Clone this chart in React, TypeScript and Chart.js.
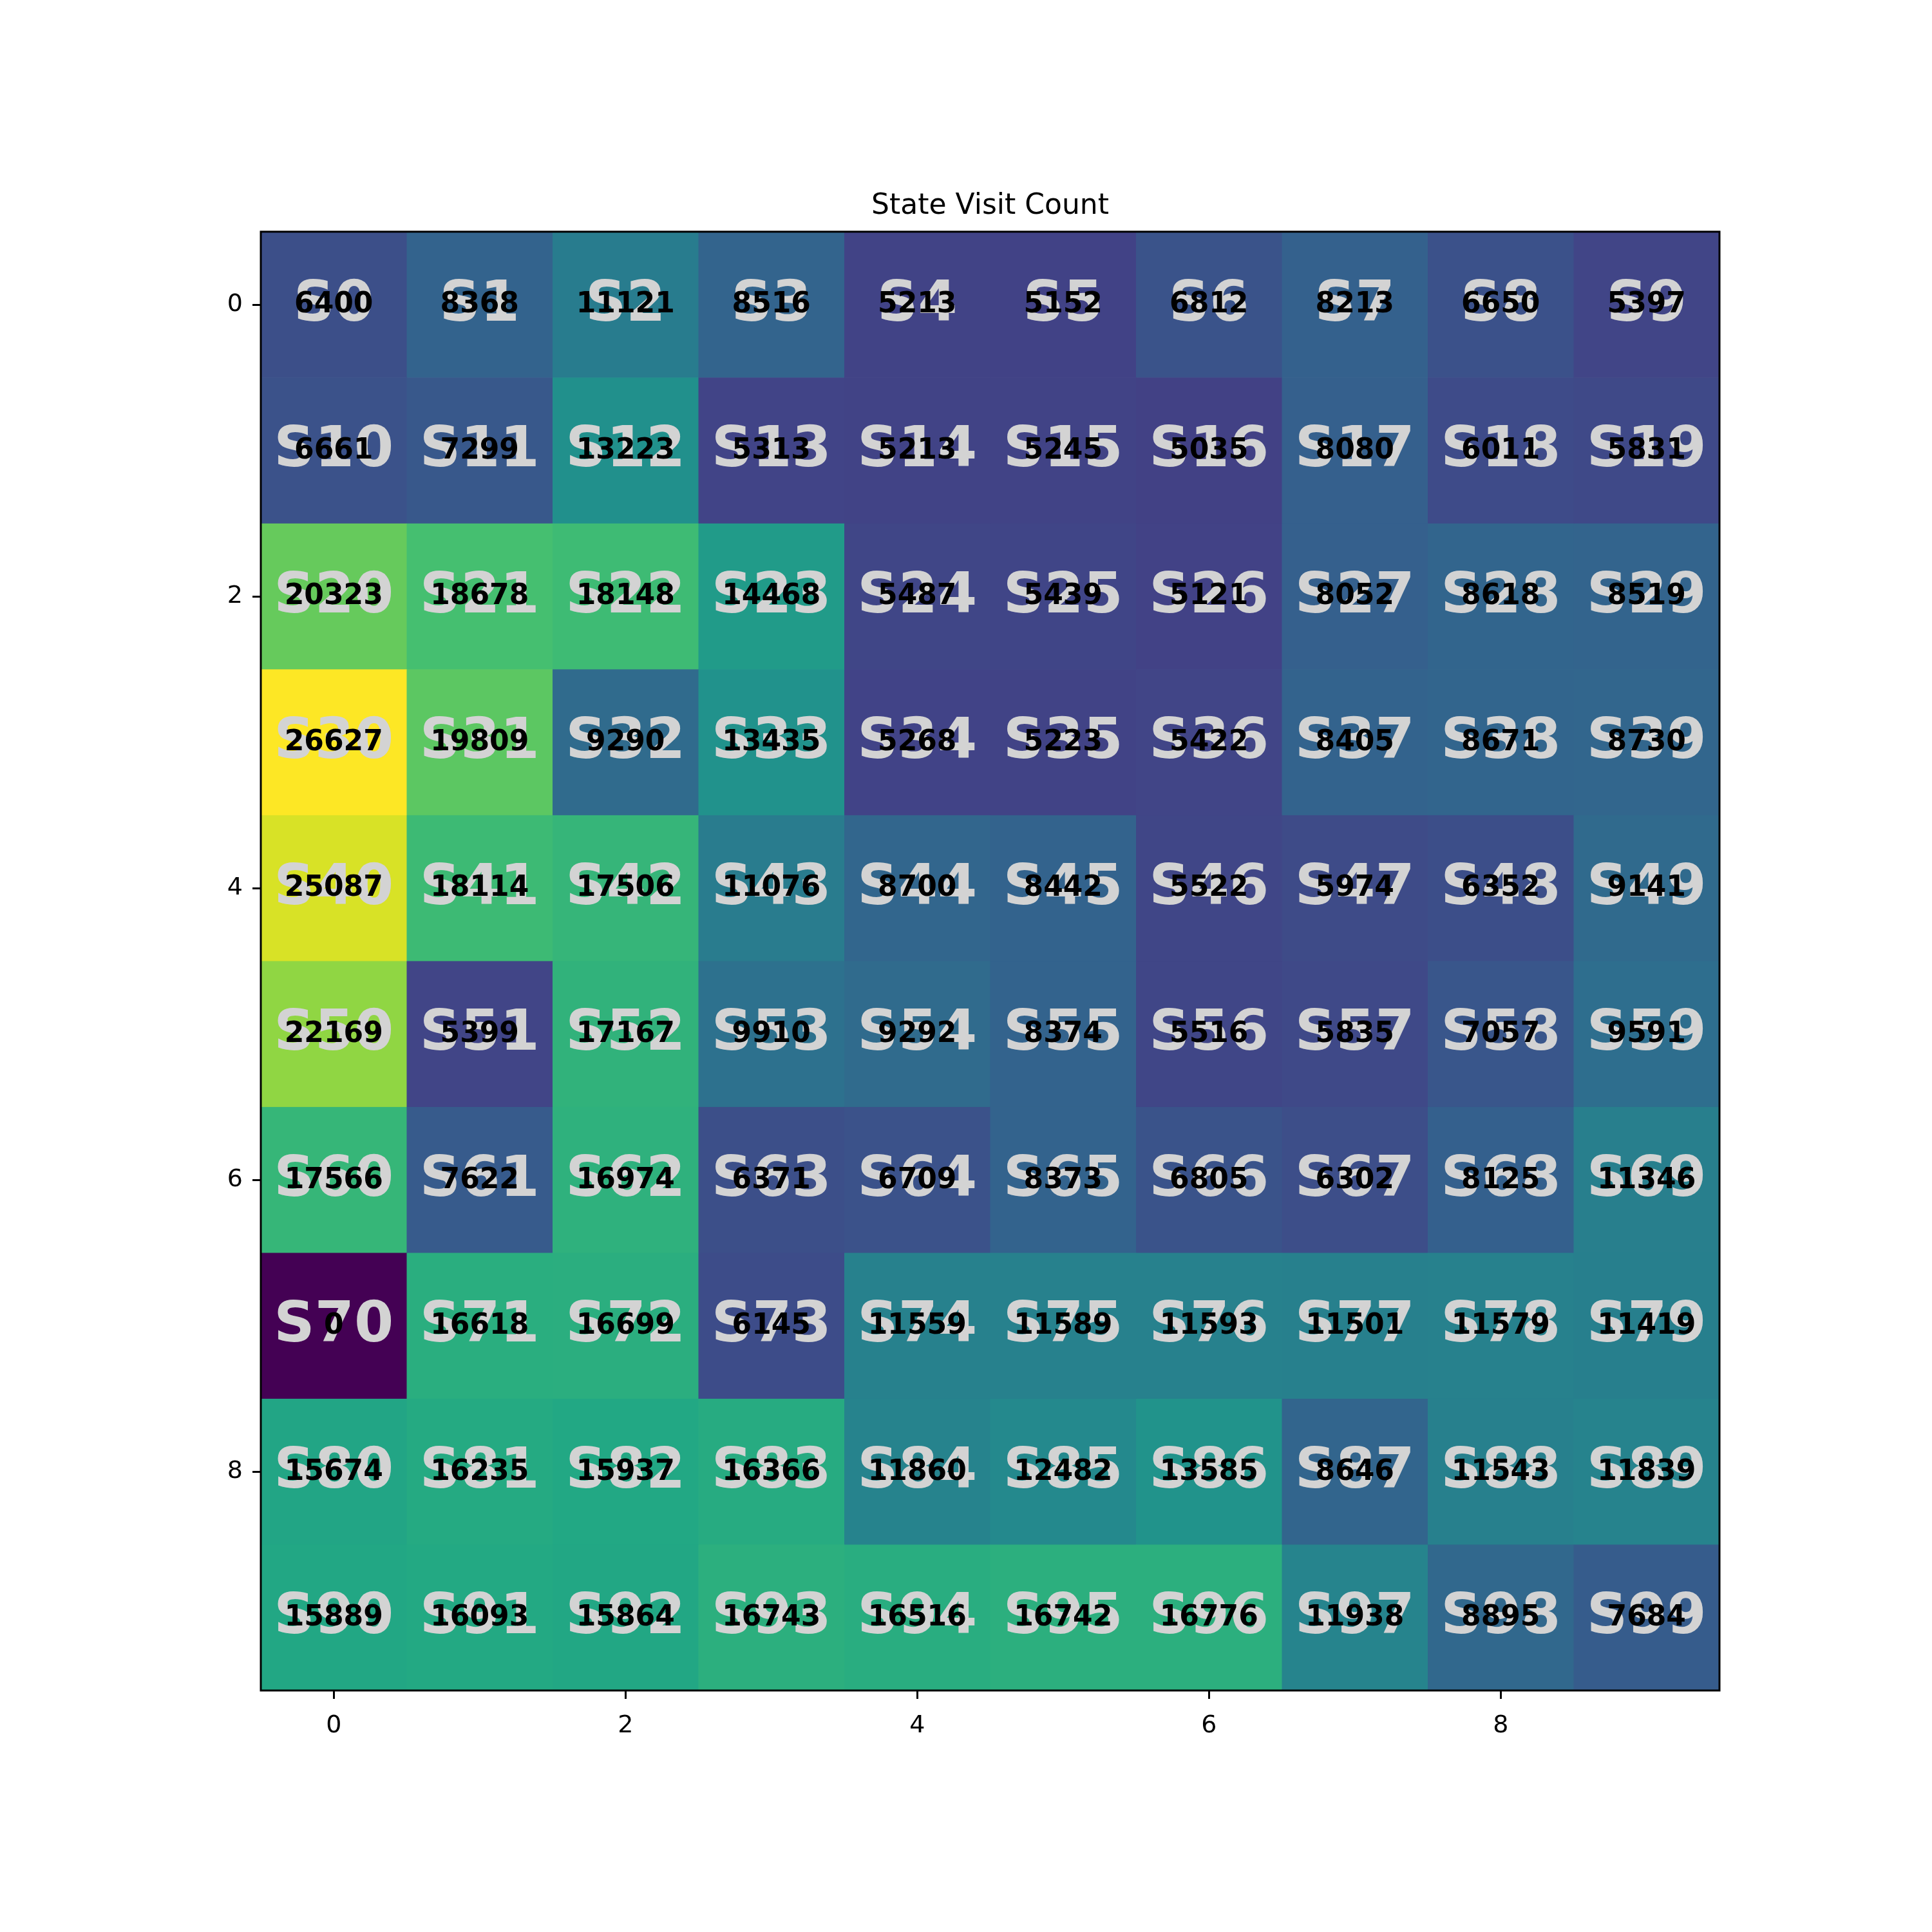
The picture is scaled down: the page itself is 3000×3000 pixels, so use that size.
import { useEffect, useRef } from 'react';
import { Chart, registerables } from 'chart.js';

Chart.register(...registerables);

const TITLE = 'State Visit Count';
const xCategories = [0, 1, 2, 3, 4, 5, 6, 7, 8, 9];
const yCategories = [0, 1, 2, 3, 4, 5, 6, 7, 8, 9];
const xTickValues = [0, 2, 4, 6, 8];
const yTickValues = [0, 2, 4, 6, 8];

const row0 = [6400, 8368, 11121, 8516, 5213, 5152, 6812, 8213, 6650, 5397];
const row1 = [6661, 7299, 13223, 5313, 5213, 5245, 5035, 8080, 6011, 5831];
const row2 = [20323, 18678, 18148, 14468, 5487, 5439, 5121, 8052, 8618, 8519];
const row3 = [26627, 19809, 9290, 13435, 5268, 5223, 5422, 8405, 8671, 8730];
const row4 = [25087, 18114, 17506, 11076, 8700, 8442, 5522, 5974, 6352, 9141];
const row5 = [22169, 5399, 17167, 9910, 9292, 8374, 5516, 5835, 7057, 9591];
const row6 = [17566, 7622, 16974, 6371, 6709, 8373, 6805, 6302, 8125, 11346];
const row7 = [0, 16618, 16699, 6145, 11559, 11589, 11593, 11501, 11579, 11419];
const row8 = [15674, 16235, 15937, 16366, 11860, 12482, 13585, 8646, 11543, 11839];
const row9 = [15889, 16093, 15864, 16743, 16516, 16742, 16776, 11938, 8895, 7684];

const rows = [row0, row1, row2, row3, row4, row5, row6, row7, row8, row9];
const stateLabels = yCategories.map((r) => xCategories.map((c) => `S${r * 10 + c}`));

const FONT = '"DejaVu Sans", sans-serif';

const VIRIDIS = [
  [68, 1, 84],
  [72, 36, 117],
  [65, 68, 135],
  [53, 95, 141],
  [42, 120, 142],
  [33, 145, 140],
  [34, 168, 132],
  [68, 191, 112],
  [122, 209, 81],
  [189, 223, 38],
  [253, 231, 37],
];

function viridis(t: number) {
  const tt = Math.max(0, Math.min(1, t)) * (VIRIDIS.length - 1);
  const i = Math.min(VIRIDIS.length - 2, Math.floor(tt));
  const f = tt - i;
  const a = VIRIDIS[i];
  const b = VIRIDIS[i + 1];
  const c = a.map((v, k) => Math.round(v + (b[k] - v) * f));
  return `rgb(${c[0]},${c[1]},${c[2]})`;
}

const allValues = rows.flat();
const vmin = Math.min(...allValues);
const vmax = Math.max(...allValues);

const heatmapPlugin = {
  id: 'heatmapCells',
  beforeDatasetsDraw(chart: any) {
    const { ctx, scales } = chart;
    const xs = scales.x;
    const ys = scales.y;
    ctx.save();
    rows.forEach((row, r) => {
      row.forEach((v, c) => {
        const x0 = xs.getPixelForValue(c - 0.5);
        const x1 = xs.getPixelForValue(c + 0.5);
        const y0 = ys.getPixelForValue(r - 0.5);
        const y1 = ys.getPixelForValue(r + 0.5);
        ctx.fillStyle = viridis((v - vmin) / (vmax - vmin));
        ctx.fillRect(Math.min(x0, x1), Math.min(y0, y1), Math.abs(x1 - x0) + 0.6, Math.abs(y1 - y0) + 0.6);
      });
    });
    ctx.restore();
  },
  afterDatasetsDraw(chart: any) {
    const { ctx, scales, chartArea } = chart;
    const xs = scales.x;
    const ys = scales.y;
    ctx.save();
    ctx.textAlign = 'center';
    ctx.textBaseline = 'alphabetic';
    const bigSize = 88;
    const smallSize = 44;
    rows.forEach((row, r) => {
      row.forEach((v, c) => {
        const cx = xs.getPixelForValue(c);
        const cy = ys.getPixelForValue(r);
        ctx.font = `bold ${bigSize}px ${FONT}`;
        ctx.fillStyle = '#d3d3d3';
        ctx.fillText(stateLabels[r][c], cx, cy + bigSize * 0.28);
        ctx.font = `bold ${smallSize}px ${FONT}`;
        ctx.fillStyle = '#000000';
        ctx.fillText(String(v), cx, cy + smallSize * 0.28);
      });
    });
    ctx.strokeStyle = '#000000';
    ctx.lineWidth = 3;
    ctx.strokeRect(chartArea.left, chartArea.top, chartArea.right - chartArea.left, chartArea.bottom - chartArea.top);
    ctx.restore();
  },
};

export default function App() {
  const canvasRef = useRef<HTMLCanvasElement | null>(null);

  useEffect(() => {
    const canvas = canvasRef.current;
    if (!canvas) return;
    const points: { x: number; y: number; v: number }[] = [];
    rows.forEach((row, r) => row.forEach((v, c) => points.push({ x: xCategories[c], y: yCategories[r], v })));

    const tickFont = { family: FONT, size: 38 };
    const chart = new Chart(canvas, {
      type: 'scatter',
      data: {
        datasets: [
          {
            label: 'visits',
            data: points,
            pointRadius: 0,
            pointHoverRadius: 0,
          },
        ],
      },
      options: {
        responsive: false,
        animation: false,
        devicePixelRatio: 1,
        events: [],
        layout: { padding: { left: 305, right: 230, top: 0, bottom: 275 } },
        plugins: {
          legend: { display: false },
          tooltip: { enabled: false },
          title: {
            display: true,
            text: TITLE,
            color: '#000000',
            font: { family: FONT, size: 44, weight: 'normal', lineHeight: 1.2 },
            padding: { top: 294, bottom: 13 },
          },
        },
        scales: {
          x: {
            type: 'linear',
            min: -0.5,
            max: 9.5,
            afterBuildTicks: (s: any) => {
              s.ticks = xTickValues.map((v) => ({ value: v }));
            },
            afterFit: (s: any) => {
              s.height = 100;
            },
            ticks: {
              color: '#000000',
              font: tickFont,
              padding: 19,
              maxRotation: 0,
              autoSkip: false,
              callback: (v: any) => String(v),
            },
            grid: { drawOnChartArea: false, tickLength: 13, tickWidth: 3, tickColor: '#000000' },
            border: { display: false },
          },
          y: {
            type: 'linear',
            reverse: true,
            min: -0.5,
            max: 9.5,
            afterBuildTicks: (s: any) => {
              s.ticks = yTickValues.map((v) => ({ value: v }));
            },
            afterFit: (s: any) => {
              s.width = 100;
            },
            ticks: {
              color: '#000000',
              font: tickFont,
              padding: 15,
              autoSkip: false,
              callback: (v: any) => String(v),
            },
            grid: { drawOnChartArea: false, tickLength: 13, tickWidth: 3, tickColor: '#000000' },
            border: { display: false },
          },
          yRight: {
            type: 'linear',
            position: 'right',
            display: true,
            min: -0.5,
            max: 9.5,
            afterFit: (s: any) => {
              s.width = 100;
            },
            ticks: { display: false },
            grid: { display: false },
            border: { display: false },
          },
        },
      },
      plugins: [heatmapPlugin],
    } as any);
    return () => chart.destroy();
  }, []);

  return (
    <div style={{ position: 'absolute', left: 0, top: 0, width: 3000, height: 3000, background: '#ffffff' }}>
      <canvas ref={canvasRef} width={3000} height={3000} style={{ width: 3000, height: 3000, display: 'block' }} />
    </div>
  );
}
